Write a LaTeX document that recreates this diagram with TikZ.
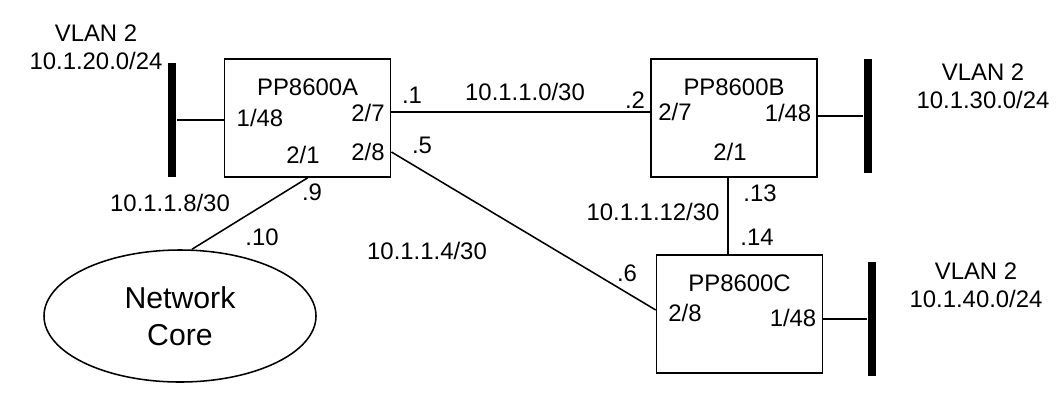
\documentclass[tikz,border=0pt]{standalone}
\usepackage{fontspec}
\setmainfont{Liberation Sans}
\usetikzlibrary{positioning,calc,shapes.geometric}

\begin{document}
\begin{tikzpicture}
	[   bnode/.style={draw=black,line width=1.2pt,minimum width=4.15cm,minimum height=2.95cm},
	    lbar/.style={fill=black,inner sep=0pt,minimum width=0.22cm,minimum height=2.85cm},
	    tnode/.style={inner sep=0pt,font=\fontsize{17}{20}\selectfont},
	]
	\tikzset{normal line/.style={draw,line width=1.1pt}}
	\useasboundingbox (0,0) rectangle (26.5,-9.975);
	
	% switches
	\foreach \s/\x/\y in {A/7.69/-2.95,B/18.35/-2.95,C/18.49/-7.85}
	{
		\node[bnode] (pp-\s) at (\x,\y) {};
		\node[tnode] (n-\s) at ([yshift=-0.72cm]pp-\s.north) {PP8600\s};
	}
	\node[tnode] (a-148) at (6.5,-2.95) {1/48};
	\node[tnode] (a-27) at (9.2,-2.825) {2/7};
	\node[tnode] (a-28) at (9.2,-3.8) {2/8};
	\node[tnode] (a-21) at (7.575,-3.875) {2/1};
	\node[tnode] (b-27) at (16.875,-2.8) {2/7};
	\node[tnode] (b-148) at (19.7,-2.825) {1/48};
	\node[tnode] (b-21) at (18.25,-3.8) {2/1};
	\node[tnode] (c-28) at (17.125,-7.825) {2/8};
	\node[tnode] (c-148) at (19.825,-7.95) {1/48};
	
	% lan segments
	\node[lbar] (lan-A) at (4.3,-3.0) {};
	\node[lbar] (lan-B) at (21.7,-2.9) {};
	\node[lbar] (lan-C) at (21.8,-7.975) {};
	\node[tnode,align=center] (v-A) at (2.4,-1.175) {VLAN 2\\10.1.20.0/24};
	\node[tnode,align=center] (v-B) at (24.575,-2.15) {VLAN 2\\10.1.30.0/24};
	\node[tnode,align=center] (v-C) at (24.4,-7.125) {VLAN 2\\10.1.40.0/24};
	
	\node[draw=black,line width=1.1pt,ellipse,minimum width=6.8cm,minimum height=3.3cm,
		align=center,font=\fontsize{21.5}{26}\selectfont] (core) at (4.5,-7.9) {Network\\Core};
	
	% links
	\path[normal line] (lan-A) -- (lan-A -| pp-A.west);
	\path[normal line] (lan-B) -- (lan-B -| pp-B.east);
	\path[normal line] (lan-C) -- (lan-C -| pp-C.east);
	\path[normal line] ([yshift=1.5mm]pp-A.east) -- ([yshift=1.5mm]pp-B.west);
	\path[normal line] ([yshift=-8.5mm]pp-A.east) -- ([yshift=1mm]pp-C.west);
	\path[normal line] (pp-A.south) -- ([xshift=3mm]core.north);
	\path[normal line] ([xshift=-1.5mm]pp-B.south) -- ([xshift=-1.5mm]pp-B.south |- pp-C.north);
	
	% addresses
	\node[tnode] (ip-1) at (10.3,-2.375) {.1};
	\node[tnode] (net-ab) at (13.125,-2.3) {10.1.1.0/30};
	\node[tnode] (ip-2) at (15.875,-2.5) {.2};
	\node[tnode] (ip-5) at (10.55,-3.625) {.5};
	\node[tnode] (ip-9) at (7.8,-4.8) {.9};
	\node[tnode] (net-core) at (4.25,-5.075) {10.1.1.8/30};
	\node[tnode] (ip-10) at (6.55,-5.925) {.10};
	\node[tnode] (net-ac) at (10.675,-6.275) {10.1.1.4/30};
	\node[tnode] (ip-6) at (15.675,-6.825) {.6};
	\node[tnode] (ip-13) at (19.0,-4.825) {.13};
	\node[tnode] (net-bc) at (16.325,-5.3) {10.1.1.12/30};
	\node[tnode] (ip-14) at (18.925,-5.925) {.14};
\end{tikzpicture}
\end{document}
